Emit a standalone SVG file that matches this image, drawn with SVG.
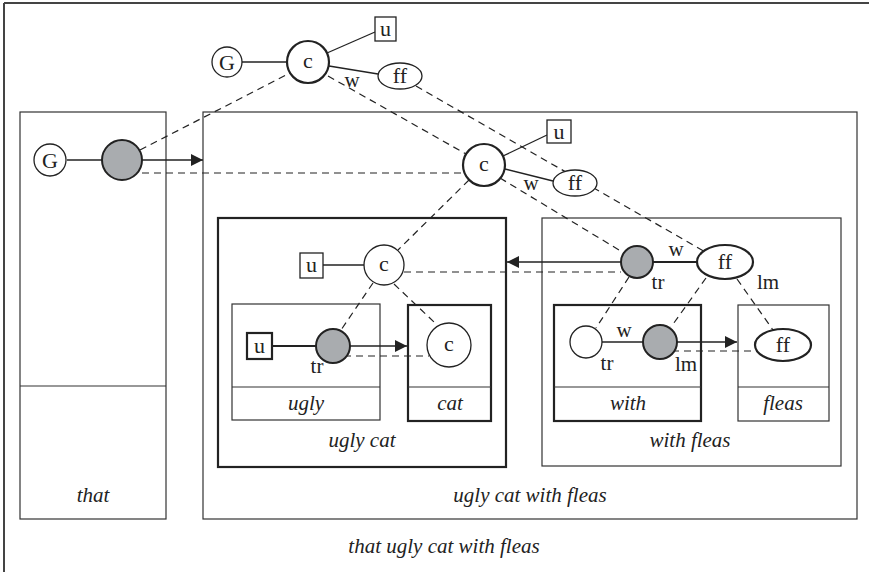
<svg xmlns="http://www.w3.org/2000/svg" width="869" height="572" viewBox="0 0 869 572">
<defs>
<style>
text{font-family:"Liberation Serif","DejaVu Serif",serif;fill:#222;}
.lbl{font-size:22px;text-anchor:middle;}
.it{font-size:21px;font-style:italic;text-anchor:middle;}
.sm{font-size:21px;}
.box{fill:none;stroke:#333;stroke-width:1.2;}
.tbox{fill:none;stroke:#222;stroke-width:2.2;}
.node{fill:#fff;stroke:#222;stroke-width:1.3;}
.tnode{fill:#fff;stroke:#222;stroke-width:2.2;}
.gray{fill:#a9acaf;stroke:#222;stroke-width:2;}
.ln{stroke:#222;stroke-width:1.3;fill:none;}
.tln{stroke:#222;stroke-width:2.2;fill:none;}
.dash{stroke:#222;stroke-width:1.2;stroke-dasharray:7,5;fill:none;}
</style>
<marker id="ah" viewBox="0 0 10 10" refX="10" refY="5" markerWidth="12" markerHeight="12" markerUnits="userSpaceOnUse" orient="auto">
<path d="M0,0 L10,5 L0,10 z" fill="#222"/>
</marker>
</defs>

<!-- frame -->
<g id="frame">
<line x1="4" y1="3" x2="869" y2="3" stroke="#444" stroke-width="2"/>
<line x1="4" y1="3" x2="4" y2="572" stroke="#444" stroke-width="2"/>
</g>

<!-- containers -->
<g id="box-that">
<rect class="box" x="20" y="112" width="146" height="407"/>
<line class="box" x1="20" y1="386" x2="166" y2="386"/>
<text class="it" x="93" y="502">that</text>
</g>
<g id="box-uglycatwithfleas">
<rect class="box" x="203" y="112" width="654" height="407"/>
<text class="it" x="530" y="502">ugly cat with fleas</text>
</g>
<g id="box-uglycat">
<rect class="tbox" x="218" y="218" width="288" height="249"/>
<text class="it" x="362" y="447">ugly cat</text>
</g>
<g id="box-ugly">
<rect class="box" x="232" y="304" width="148" height="116"/>
<line class="box" x1="232" y1="387" x2="380" y2="387"/>
<text class="it" x="306" y="410">ugly</text>
</g>
<g id="box-cat">
<rect class="tbox" x="408" y="305" width="83" height="116"/>
<line class="box" x1="408" y1="387" x2="491" y2="387"/>
<text class="it" x="450" y="410">cat</text>
</g>
<g id="box-withfleas">
<rect class="box" x="542" y="218" width="299" height="248"/>
<text class="it" x="690" y="447">with fleas</text>
</g>
<g id="box-with">
<rect class="tbox" x="554" y="305" width="147" height="116"/>
<line class="box" x1="554" y1="387" x2="701" y2="387"/>
<text class="it" x="628" y="410">with</text>
</g>
<g id="box-fleas">
<rect class="box" x="738" y="305" width="91" height="116"/>
<line class="box" x1="738" y1="387" x2="829" y2="387"/>
<text class="it" x="783" y="410">fleas</text>
</g>
<text class="it" x="444" y="553">that ugly cat with fleas</text>

<!-- connectors -->
<g id="connectors">
<!-- solid -->
<line class="ln" x1="242" y1="62" x2="287" y2="62"/>
<line class="ln" x1="327" y1="53" x2="375" y2="32"/>
<line class="ln" x1="329" y1="66" x2="378" y2="74"/>
<line class="ln" x1="67" y1="160" x2="102" y2="160"/>
<line class="ln" x1="142" y1="160" x2="203" y2="160" marker-end="url(#ah)"/>
<line class="ln" x1="503" y1="156" x2="547" y2="135"/>
<line class="ln" x1="505" y1="169" x2="553" y2="181"/>
<line class="ln" x1="323" y1="265" x2="364" y2="265"/>
<line class="tln" x1="272" y1="346" x2="316" y2="346"/>
<line class="ln" x1="350" y1="346" x2="407" y2="346" marker-end="url(#ah)"/>
<line class="ln" x1="621" y1="262" x2="507" y2="262" marker-end="url(#ah)"/>
<line class="tln" x1="653" y1="262" x2="697" y2="262"/>
<line class="ln" x1="602" y1="342" x2="643" y2="342"/>
<line class="ln" x1="677" y1="342" x2="737" y2="342" marker-end="url(#ah)"/>
<!-- dashed -->
<line class="dash" x1="140" y1="150" x2="290" y2="73"/>
<line class="dash" x1="142" y1="173" x2="463" y2="173"/>
<line class="dash" x1="328" y1="76" x2="466" y2="154"/>
<line class="dash" x1="416" y1="86" x2="707" y2="253"/>
<line class="dash" x1="469" y1="180" x2="398" y2="250"/>
<line class="dash" x1="500" y1="178" x2="624" y2="253"/>
<line class="dash" x1="404" y1="272" x2="621" y2="272"/>
<line class="dash" x1="373" y1="283" x2="341" y2="330"/>
<line class="dash" x1="394" y1="284" x2="434" y2="322"/>
<line class="dash" x1="344" y1="356" x2="429" y2="356"/>
<line class="dash" x1="629" y1="277" x2="596" y2="328"/>
<line class="dash" x1="706" y1="278" x2="671" y2="327"/>
<line class="dash" x1="737" y1="279" x2="773" y2="330"/>
<line class="dash" x1="672" y1="351" x2="756" y2="351"/>
</g>

<!-- nodes -->
<g id="n-top-G"><circle class="node" cx="227" cy="62" r="15"/><text class="lbl" x="227" y="70">G</text></g>
<g id="n-top-c"><circle class="tnode" cx="308" cy="62" r="21"/><text class="lbl" x="308" y="68">c</text></g>
<g id="n-top-u"><rect class="node" x="375" y="17" width="21" height="24"/><text class="lbl" x="385.5" y="36">u</text></g>
<g id="n-top-ff"><ellipse class="node" cx="400" cy="76" rx="22" ry="13"/><text class="lbl" x="400" y="83">ff</text></g>
<text class="lbl sm" x="352" y="87">w</text>

<g id="n-that-G"><circle class="node" cx="50" cy="160" r="16"/><text class="lbl" x="50" y="168">G</text></g>
<g id="n-that-gray"><circle class="gray" cx="122" cy="160" r="20"/></g>

<g id="n-mid-c"><circle class="tnode" cx="484" cy="165" r="21"/><text class="lbl" x="484" y="171">c</text></g>
<g id="n-mid-u"><rect class="node" x="547" y="120" width="24" height="23"/><text class="lbl" x="559" y="139">u</text></g>
<g id="n-mid-ff"><ellipse class="node" cx="575" cy="183" rx="22" ry="13"/><text class="lbl" x="575" y="190">ff</text></g>
<text class="lbl sm" x="531" y="190">w</text>

<g id="n-uc-c"><circle class="node" cx="384" cy="265" r="20"/><text class="lbl" x="384" y="271">c</text></g>
<g id="n-uc-u"><rect class="node" x="300" y="253" width="23" height="25"/><text class="lbl" x="311.5" y="272">u</text></g>
<g id="n-ugly-u"><rect class="tnode" x="247" y="333" width="25" height="26"/><text class="lbl" x="259.5" y="353">u</text></g>
<g id="n-ugly-gray"><circle class="gray" cx="333" cy="346" r="17"/></g>
<text class="lbl sm" x="317" y="373">tr</text>
<g id="n-cat-c"><circle class="node" cx="449" cy="345" r="22"/><text class="lbl" x="449" y="351">c</text></g>

<g id="n-wf-gray"><circle class="gray" cx="637" cy="262" r="16"/></g>
<g id="n-wf-ff"><ellipse class="tnode" cx="725" cy="262" rx="28" ry="17"/><text class="lbl" x="725" y="269">ff</text></g>
<text class="lbl sm" x="676" y="256">w</text>
<text class="lbl sm" x="658" y="289">tr</text>
<text class="lbl sm" x="768" y="289">lm</text>

<g id="n-with-white"><circle class="node" cx="586" cy="342" r="16"/></g>
<g id="n-with-gray"><circle class="gray" cx="660" cy="342" r="17"/></g>
<text class="lbl sm" x="624" y="337">w</text>
<text class="lbl sm" x="607" y="370">tr</text>
<text class="lbl sm" x="686" y="371">lm</text>
<g id="n-fleas-ff"><ellipse class="tnode" cx="783" cy="345" rx="28" ry="16"/><text class="lbl" x="783" y="352">ff</text></g>
</svg>
